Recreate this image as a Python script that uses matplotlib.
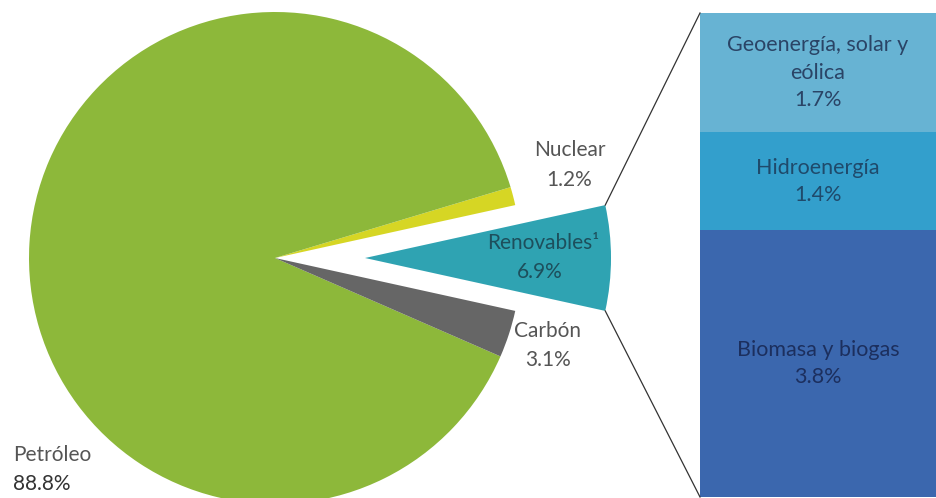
import numpy as np
import matplotlib
matplotlib.use("Agg")
import matplotlib.pyplot as plt

# pie data (order counter-clockwise starting with Renovables)
pie_labels = ["Renovables", "Nuclear", "Petróleo", "Carbón"]
pie_values = [6.9, 1.2, 88.8, 3.1]
pie_colors = ["#2fa3b2", "#d6d624", "#8db83a", "#666666"]

# breakdown of renewables (bottom to top)
bar_labels = ["Biomasa y biogas", "Hidroenergía", "Geoenergía, solar y\neólica"]
bar_values = [3.8, 1.4, 1.7]
bar_colors = ["#3b67ae", "#339fcc", "#67b3d3"]
bar_text_colors = ["#1c2f5e", "#1f4a6b", "#2a4466"]

W, H = 937, 498
plt.rcParams['font.family'] = ['Lato', 'DejaVu Sans']

fig = plt.figure(figsize=(W / 100, H / 100), dpi=100)
ax = fig.add_axes([0, 0, 1, 1])

cx, cy, R = 275, H - 258, 246
explode_px = 90  # explode is in data units here
half = pie_values[0] / 100 * 360 / 2
wedges, _ = ax.pie(pie_values, colors=pie_colors, startangle=-half,
                   counterclock=True, radius=R, center=(cx, cy),
                   explode=[explode_px, 0, 0, 0], frame=True,
                   wedgeprops=dict(linewidth=0))

# stacked bar for renewables
bx0, bx1 = 700, W
btop, bbot = H - 13, H - 497
scale = (btop - bbot) / sum(bar_values)
bottoms = np.concatenate([[0], np.cumsum(bar_values)[:-1]]) * scale + bbot
heights = np.array(bar_values) * scale
ax.bar(bx0, heights, width=bx1 - bx0, bottom=bottoms, align='edge',
       color=bar_colors, linewidth=0)

# connecting lines from the exploded wedge to the bar
tipx = cx + explode_px
for sgn, by in [(1, btop), (-1, bbot)]:
    a = np.deg2rad(sgn * half)
    px, py = tipx + R * np.cos(a), cy + R * np.sin(a)
    ax.plot([px, bx0], [py, by], color="#333333", lw=0.9)

# labels
fs = 15
ax.text(570, H - 150, "Nuclear", ha='center', va='center', fontsize=fs, color="#555555")
ax.text(569, H - 180, "1.2%", ha='center', va='center', fontsize=fs, color="#555555")
ax.text(543, H - 243, "Renovables¹", ha='center', va='center', fontsize=fs, color="#1d4f5c")
ax.text(540, H - 272, "6.9%", ha='center', va='center', fontsize=fs, color="#1d4f5c")
ax.text(548, H - 331, "Carbón", ha='center', va='center', fontsize=fs, color="#555555")
ax.text(548, H - 360, "3.1%", ha='center', va='center', fontsize=fs, color="#555555")
ax.text(13, H - 455, "Petróleo", ha='left', va='center', fontsize=fs, color="#555555")
ax.text(13, H - 484, "88.8%", ha='left', va='center', fontsize=fs, color="#333333")

bar_mid_x = 818
for lab, val, b, h, tc in zip(bar_labels, bar_values, bottoms, heights, bar_text_colors):
    txt = f"{lab}\n{val}%"
    ax.text(bar_mid_x, b + h / 2, txt, ha='center', va='center', fontsize=15.5,
            color=tc, linespacing=1.45)

ax.set_xlim(0, W)
ax.set_ylim(0, H)
ax.set_aspect('auto')
ax.axis('off')

fig.savefig("out.png", dpi=100)
